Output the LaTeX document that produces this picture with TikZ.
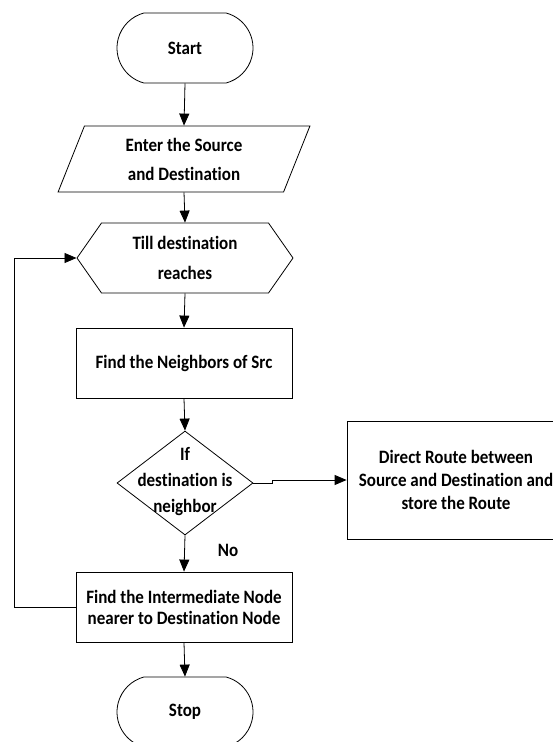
\documentclass[tikz,border=0pt]{standalone}
\usepackage{fontspec}
\setmainfont{Carlito}[FakeStretch=0.9, Ligatures=NoCommon]
\usetikzlibrary{shapes.geometric,shapes.misc,shapes.symbols,arrows.meta}
\begin{document}
\begin{tikzpicture}[x=1pt,y=-1pt,
  line width=0.8pt,
  txt/.style={font=\fontsize{18.9}{#1}\selectfont\bfseries, align=center, inner sep=0pt},
  txt/.default=22,
  term/.style={draw, rounded rectangle, rounded rectangle arc length=150, minimum width=136pt, minimum height=70pt, inner sep=0pt, txt},
  procbox/.style={draw, rectangle, minimum width=216pt, minimum height=70pt, inner sep=0pt},
  arr/.style={-{Triangle[length=12pt,width=10pt]}}
]
\useasboundingbox (0,0) rectangle (553,742);

\node[term] (start) at (185,48) {Start};
\node[draw, trapezium, trapezium left angle=70, trapezium right angle=110, trapezium stretches=true,
      minimum width=252pt, minimum height=66pt, inner sep=0pt, txt=29] (input) at (184,159)
      {Enter the Source\\and Destination};
\node[draw, signal, signal to=west and east, signal pointer angle=110,
      minimum width=216pt, minimum height=70pt, inner sep=0pt, txt=30] (loophead) at (185,258)
      {Till destination\\reaches};
\node[procbox, txt] (neigh) at (184,363) {Find the Neighbors of Src};
\node[draw, diamond, minimum width=136pt, minimum height=104pt, inner sep=0pt] (dia) at (185,483) {};
\node[txt=26] (diatext) at (185,482) {If\\destination is\\neighbor};
\node[draw, rectangle, minimum width=218pt, minimum height=118pt, inner sep=0pt, txt=23] (route) at (456,480)
      {Direct Route between\\Source and Destination and\\store the Route};
\node[procbox, txt=21] (inter) at (184,607) {Find the Intermediate Node\\nearer to Destination Node};
\node[term] (stop) at (185,712) {Stop};
\node[txt] (nolabel) at (228,550) {No};
\coordinate (loopx) at (14,0);
\coordinate (jog) at (272,0);

\draw[arr] (start.south) -- (input.north);
\draw[arr] (input.south) -- (loophead.north);
\draw[arr] (loophead.south) -- (neigh.north);
\draw[arr] (neigh.south) -- (dia.north);
\draw[arr] (dia.south) -- (inter.north);
\draw[arr] (inter.south) -- (stop.north);
\draw[arr] (dia.east) -- (dia.east -| jog) -- (route.west -| jog) -- (route.west);
\draw[arr] (inter.west) -- (inter.west -| loopx) -- (loophead.west -| loopx) -- (loophead.west);
\end{tikzpicture}
\end{document}
